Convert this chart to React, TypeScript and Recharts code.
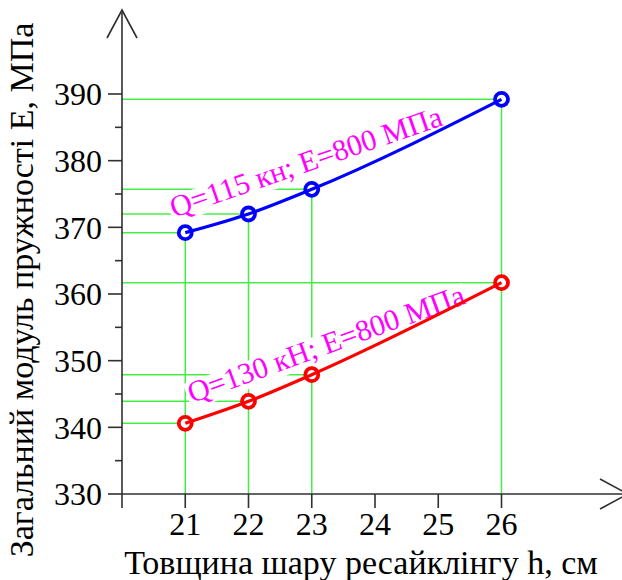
import React from 'react';
import { LineChart, Line, XAxis, YAxis, ReferenceLine, ReferenceDot } from 'recharts';

// ---- data ----
const thickness = [21, 22, 23, 26];
const modulusQ115 = [369.2, 372.0, 375.7, 389.2];
const modulusQ130 = [340.6, 343.9, 347.9, 361.7];
const xTicks = [20, 21, 22, 23, 24, 25, 26];
const yTicks = [330, 335, 340, 345, 350, 355, 360, 365, 370, 375, 380, 385, 390];
const X_DOMAIN: [number, number] = [20, 28];
const Y_DOMAIN: [number, number] = [330, 402.6];
const seriesLabels = [
  { text: 'Q=115 кн; E=800 МПа', h: 22.96, e: 378.4, angle: -19 },
  { text: 'Q=130 кН; E=800 МПа', h: 23.28, e: 351.1, angle: -20 },
];
const xTitle = 'Товщина шару ресайклінгу h, см';
const yTitle = 'Загальний модуль пружності E, МПа';

// ---- styles / layout ----
const FONT = 'Liberation Serif';
const AXIS = '#303030';
const GREEN = '#44ee44';
const BLUE = '#0000ff';
const RED = '#ff0000';
const MAGENTA = '#ff00ff';
const CHART_W = 631;
const CHART_H = 580;
const MARGIN = { top: 10, right: 3, left: 0, bottom: 0 };
const Y_AXIS_W = 122;
const X_AXIS_H = 86;
const PLOT_LEFT = MARGIN.left + Y_AXIS_W;

const data = thickness.map((h, i) => ({ h, q115: modulusQ115[i], q130: modulusQ130[i] }));

function Annotation(props: any) {
  const { cx, cy, text, angle } = props;
  const ref = React.useRef<SVGTextElement>(null);
  const [w, setW] = React.useState(290);
  React.useLayoutEffect(() => {
    if (ref.current) setW(ref.current.getComputedTextLength());
  }, [text]);
  const fs = 30;
  if (cx == null || cy == null) return null;
  return (
    <g transform={`translate(${cx},${cy}) rotate(${angle})`}>
      <rect x={-w / 2 - 2} y={-0.7 * fs} width={w + 4} height={0.9 * fs} fill="#ffffff" />
      <text
        ref={ref}
        x={0}
        y={0}
        textAnchor="middle"
        style={{ fontFamily: FONT }}
        fontSize={fs}
        fill={MAGENTA}
      >
        {text}
      </text>
    </g>
  );
}

const YTick = (props: any) => {
  const { y, payload } = props;
  const major = payload.value % 10 === 0;
  return (
    <g>
      <line x1={PLOT_LEFT - (major ? 14 : 7)} x2={PLOT_LEFT} y1={y} y2={y} stroke={AXIS} strokeWidth={1.6} />
      {major && (
        <text x={PLOT_LEFT - 20} y={y} dy="0.355em" textAnchor="end" style={{ fontFamily: FONT }} fontSize={32} fill="#000">
          {payload.value}
        </text>
      )}
    </g>
  );
};

const XTick = (props: any) => {
  const { x, y, payload } = props;
  if (payload.value === X_DOMAIN[0]) return <g />;
  return (
    <text x={x} y={y} dy="0.71em" textAnchor="middle" style={{ fontFamily: FONT }} fontSize={32} fill="#000">
      {payload.value}
    </text>
  );
};

const YTitle = () => (
  <text
    x={33}
    y={290}
    transform="rotate(-90, 33, 290)"
    textAnchor="middle"
    style={{ fontFamily: FONT }}
    fontSize={34}
    fill="#000"
  >
    {yTitle}
  </text>
);

const XTitle = () => (
  <text x={361} y={574} textAnchor="middle" style={{ fontFamily: FONT }} fontSize={34} fill="#000">
    {xTitle}
  </text>
);

export default function App() {
  return (
    <div style={{ position: 'absolute', left: 0, top: 0, width: 622, height: 580, overflow: 'hidden', background: '#fff', fontFamily: FONT }}>
      <LineChart width={CHART_W} height={CHART_H} data={data} margin={MARGIN} style={{ fontFamily: FONT }}>
        <defs>
          <marker id="arrowHead" markerUnits="userSpaceOnUse" refX={0} refY={0} orient="auto-start-reverse" overflow="visible" markerWidth={1} markerHeight={1}>
            <path d="M-28,-15 L0,0 L-28,15" fill="none" stroke={AXIS} strokeWidth={1.6} />
          </marker>
        </defs>
        <XAxis
          type="number"
          dataKey="h"
          domain={X_DOMAIN}
          ticks={xTicks}
          interval={0}
          allowDataOverflow
          height={X_AXIS_H}
          tickSize={14}
          tickMargin={4}
          axisLine={{ stroke: AXIS, strokeWidth: 1.6, markerEnd: 'url(#arrowHead)' } as any}
          tickLine={{ stroke: AXIS, strokeWidth: 1.6 }}
          tick={<XTick />}
          label={<XTitle />}
        />
        <YAxis
          type="number"
          domain={Y_DOMAIN}
          ticks={yTicks}
          interval={0}
          allowDataOverflow
          width={Y_AXIS_W}
          tickSize={14}
          tickMargin={6}
          tickLine={false}
          axisLine={{ stroke: AXIS, strokeWidth: 1.6, markerStart: 'url(#arrowHead)' } as any}
          tick={<YTick />}
          label={<YTitle />}
        />
        {thickness.map((h, i) => (
          <ReferenceLine
            key={'v' + i}
            segment={[{ x: h, y: Y_DOMAIN[0] }, { x: h, y: modulusQ115[i] }]}
            stroke={GREEN}
            strokeWidth={1.5}
          />
        ))}
        {thickness.map((h, i) => (
          <ReferenceLine
            key={'hb' + i}
            segment={[{ x: X_DOMAIN[0], y: modulusQ115[i] }, { x: h, y: modulusQ115[i] }]}
            stroke={GREEN}
            strokeWidth={1.5}
          />
        ))}
        {thickness.map((h, i) => (
          <ReferenceLine
            key={'hr' + i}
            segment={[{ x: X_DOMAIN[0], y: modulusQ130[i] }, { x: h, y: modulusQ130[i] }]}
            stroke={GREEN}
            strokeWidth={1.5}
          />
        ))}
        {seriesLabels.map((l, i) => (
          <ReferenceDot
            key={'lbl' + i}
            x={l.h}
            y={l.e}
            r={0}
            shape={(p: any) => <Annotation cx={p.cx} cy={p.cy} text={l.text} angle={l.angle} />}
          />
        ))}
        <Line
          type="monotone"
          dataKey="q115"
          stroke={BLUE}
          strokeWidth={3.2}
          dot={{ r: 6.5, stroke: BLUE, strokeWidth: 3.8, fill: '#fff' }}
          activeDot={false}
          isAnimationActive={false}
          {...({ zIndex: 3000 } as any)}
        />
        <Line
          type="monotone"
          dataKey="q130"
          stroke={RED}
          strokeWidth={3.2}
          dot={{ r: 6.5, stroke: RED, strokeWidth: 3.8, fill: '#fff' }}
          activeDot={false}
          isAnimationActive={false}
          {...({ zIndex: 3000 } as any)}
        />
      </LineChart>
    </div>
  );
}
